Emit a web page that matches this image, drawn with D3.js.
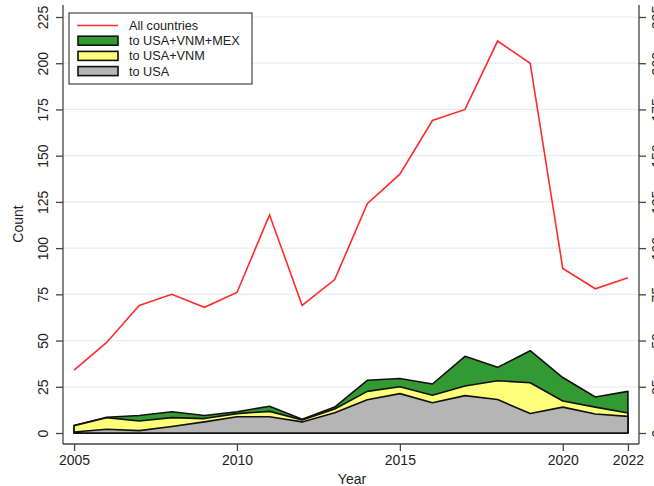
<!DOCTYPE html>
<html>
<head>
<meta charset="utf-8">
<title>Count by year</title>
<style>
body { margin: 0; background: #fff; }
svg { display: block; font-family: "Liberation Sans", Arial, sans-serif; }
.grid line { stroke: #e6eef1; stroke-width: 1.2px; }
.axis path, .axis line { stroke: #444; stroke-width: 1.3px; }
.axis text { fill: #222; font-size: 14px; }
</style>
</head>
<body>
<script src="https://d3js.org/d3.v7.min.js"></script>
<script>

// Data
var years = [2005, 2006, 2007, 2008, 2009, 2010, 2011, 2012, 2013, 2014,
             2015, 2016, 2017, 2018, 2019, 2020, 2021, 2022];

var allCountries = [34, 49, 69, 75, 68, 76, 118, 69, 83, 124,
                    140, 169, 175, 212, 200, 89, 78, 84];

var toUsaVnmMex = [4, 8.5, 9.5, 11.5, 9.5, 11.5, 14.5, 7.5, 14, 28.5,
                   29.5, 26.5, 41.5, 35.5, 44.5, 30, 19.5, 22.5];

var toUsaVnm = [4, 8.3, 6.5, 8.3, 7.8, 10.5, 11.7, 7, 13, 22.5,
                25, 20.4, 25.4, 28.3, 27.2, 17.3, 14, 10.8];

var toUsa = [0.5, 2, 1.3, 3.5, 6, 8.8, 8.8, 6, 11, 18,
             21.3, 16.4, 20.2, 18.1, 10.5, 14, 10.3, 9];

var yTicks = [0, 25, 50, 75, 100, 125, 150, 175, 200, 225];
var xTicks = [2005, 2010, 2015, 2020, 2022];

var legendLabels = ["All countries", "to USA+VNM+MEX", "to USA+VNM", "to USA"];

// Dimensions
var width = 654, height = 486;
var plot = {left: 63, right: 639, top: 5, bottom: 444};

var x = d3.scaleLinear()
    .domain([2004.66, 2022.34])
    .range([plot.left, plot.right]);

var y = d3.scaleLinear()
    .domain([0, 225])
    .range([433, 17]);

var svg = d3.select("body").append("svg")
    .attr("width", width)
    .attr("height", height);

// gridlines
svg.append("g")
    .attr("class", "grid")
    .selectAll("line")
    .data(yTicks.filter(function(t) { return t > 0; }))
    .enter().append("line")
    .attr("x1", plot.left)
    .attr("x2", plot.right)
    .attr("y1", function(d) { return y(d); })
    .attr("y2", function(d) { return y(d); });

// areas, drawn from zero and overlaid
var series = [
    {values: toUsaVnmMex, fill: "#339933"},
    {values: toUsaVnm, fill: "#ffff7a"},
    {values: toUsa, fill: "#b5b5b5"}
];

var area = d3.area()
    .x(function(d, i) { return x(years[i]); })
    .y0(y(0))
    .y1(function(d) { return y(d); });

svg.selectAll(".band")
    .data(series)
    .enter().append("path")
    .attr("class", "band")
    .attr("d", function(s) { return area(s.values) + "Z"; })
    .attr("fill", function(s) { return s.fill; })
    .attr("stroke", "#111")
    .attr("stroke-width", 1.6)
    .attr("stroke-linejoin", "round");

// red line
var line = d3.line()
    .x(function(d, i) { return x(years[i]); })
    .y(function(d) { return y(d); });

svg.append("path")
    .attr("d", line(allCountries))
    .attr("fill", "none")
    .attr("stroke", "#ff2a2a")
    .attr("stroke-width", 1.6);

// axes
var yLeft = svg.append("g")
    .attr("class", "axis")
    .attr("transform", "translate(" + plot.left + ",0)")
    .call(d3.axisLeft(y).tickValues(yTicks).tickSize(7).tickSizeOuter(0));
yLeft.select(".domain").attr("d", "M0," + plot.top + "V" + plot.bottom);
yLeft.selectAll(".tick text")
    .attr("x", 0).attr("dy", null)
    .attr("text-anchor", "middle")
    .attr("transform", "translate(-15,0) rotate(-90)");

var yRight = svg.append("g")
    .attr("class", "axis")
    .attr("transform", "translate(" + plot.right + ",0)")
    .call(d3.axisRight(y).tickValues(yTicks).tickSize(7).tickSizeOuter(0));
yRight.select(".domain").attr("d", "M0," + plot.top + "V" + plot.bottom);
yRight.selectAll(".tick text")
    .attr("x", 0).attr("dy", null)
    .attr("text-anchor", "middle")
    .attr("transform", "translate(23,0) rotate(-90)");

var xAxis = svg.append("g")
    .attr("class", "axis")
    .attr("transform", "translate(0," + plot.bottom + ")")
    .call(d3.axisBottom(x).tickValues(xTicks).tickFormat(d3.format("d")).tickSize(7).tickSizeOuter(0));
xAxis.select(".domain").attr("d", "M" + plot.left + ",0H" + plot.right);
xAxis.selectAll(".tick text").attr("y", 11).attr("dy", "0.71em");

// axis titles
svg.append("text")
    .attr("x", 352)
    .attr("y", 484)
    .attr("text-anchor", "middle")
    .attr("font-size", 14)
    .attr("fill", "#222")
    .text("Year");

svg.append("text")
    .attr("transform", "translate(23,224) rotate(-90)")
    .attr("text-anchor", "middle")
    .attr("font-size", 14)
    .attr("fill", "#222")
    .text("Count");

// legend
var legend = svg.append("g").attr("transform", "translate(69,13)");
legend.append("rect")
    .attr("width", 183)
    .attr("height", 71)
    .attr("fill", "#fff")
    .attr("stroke", "#444")
    .attr("stroke-width", 1.2);

var keys = [
    {type: "line", color: "#ff2a2a"},
    {type: "rect", color: "#339933"},
    {type: "rect", color: "#ffff7a"},
    {type: "rect", color: "#b5b5b5"}
];

var rows = legend.selectAll(".key")
    .data(legendLabels)
    .enter().append("g")
    .attr("class", "key")
    .attr("transform", function(d, i) { return "translate(0," + (12.5 + i * 15.2) + ")"; });

rows.each(function(d, i) {
    var g = d3.select(this);
    if (keys[i].type === "line") {
        g.append("line")
            .attr("x1", 8).attr("x2", 49)
            .attr("stroke", keys[i].color)
            .attr("stroke-width", 1.6);
    } else {
        g.append("rect")
            .attr("x", 9).attr("y", -4.5)
            .attr("width", 40).attr("height", 9)
            .attr("fill", keys[i].color)
            .attr("stroke", "#111")
            .attr("stroke-width", 1.6);
    }
    g.append("text")
        .attr("x", 60)
        .attr("y", 4.5)
        .attr("font-size", 12.7)
        .attr("fill", "#222")
        .text(d);
});

</script>
</body>
</html>
